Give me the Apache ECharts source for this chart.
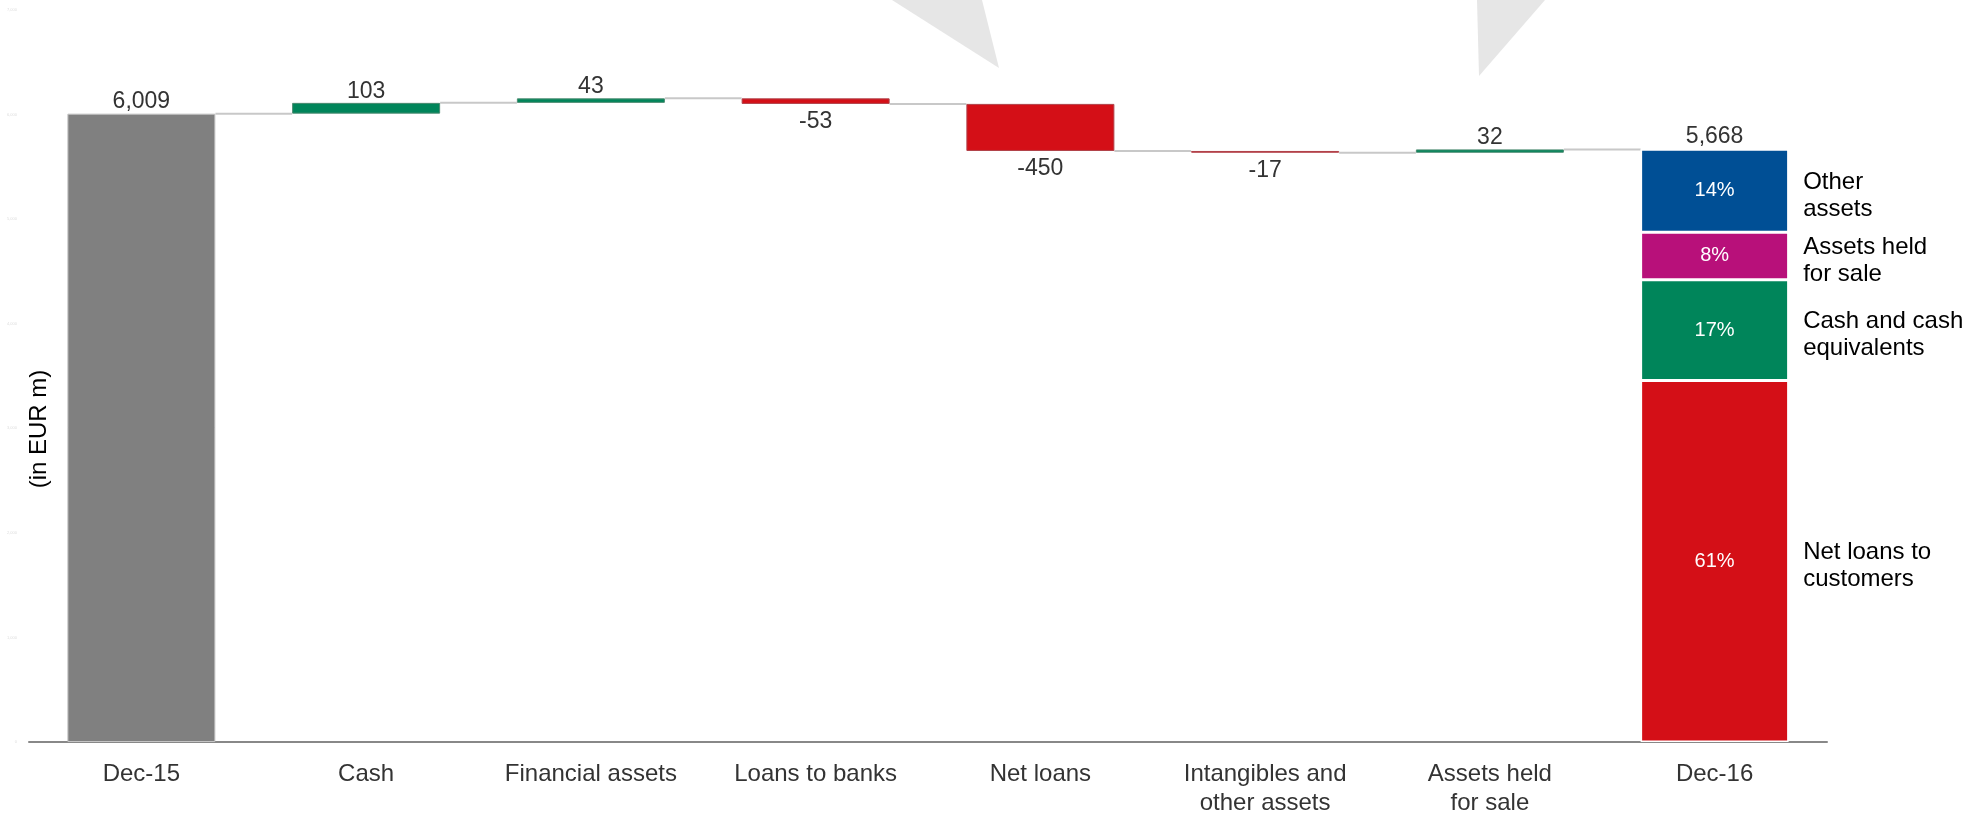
<!DOCTYPE html>
<html>
<head>
<meta charset="utf-8">
<style>
html,body{margin:0;padding:0;background:#fff;}
#chart{width:1978px;height:814px;}
</style>
<script src="https://cdn.jsdelivr.net/npm/echarts@6/dist/echarts.min.js"></script>
</head>
<body>
<div id="chart"></div>
<script>
// ---- data ----
const categories = ['Dec-15', 'Cash', 'Financial assets', 'Loans to banks', 'Net loans', 'Intangibles and\nother assets', 'Assets held\nfor sale', 'Dec-16'];
const startValue = 6009;
const changes = [103, 43, -53, -450, -17, 32];
const endValue = 5668;
const compNames = ['Net loans to\ncustomers', 'Cash and cash\nequivalents', 'Assets held\nfor sale', 'Other\nassets'];
const compPct = [61, 17, 8, 14];
const yTicks = [0, 1000, 2000, 3000, 4000, 5000, 6000, 7000];
const yAxisTitle = '(in EUR m)';

// ---- colours ----
const C_GREY = '#808080', C_GREEN = '#00855a', C_RED = '#d40f17';
const compColors = [C_RED, '#00855a', '#b8107a', '#004f95'];

const n = categories.length;
const BAR_W = 148;
const FONT = 'Liberation Sans, Arial, sans-serif';

// build waterfall helpers
const base = new Array(n).fill('-');
const pos = new Array(n).fill('-');
const neg = new Array(n).fill('-');
const total = new Array(n).fill('-');
const levels = [startValue];
total[0] = startValue;
let run = startValue;
changes.forEach((c, k) => {
  const i = k + 1;
  const next = run + c;
  base[i] = Math.min(run, next);
  if (c >= 0) pos[i] = c; else neg[i] = -c;
  run = next;
  levels.push(run);
});
const compValues = compPct.map(p => endValue * p / 100);
const fmt = v => v.toLocaleString('en-US');

const labelFont = { fontFamily: FONT, fontSize: 23, color: '#333', opacity: 1 };

const series = [
  { name: 'base', type: 'bar', stack: 'w', barWidth: BAR_W, data: base, itemStyle: { color: 'transparent' }, silent: true },
  { name: 'total', type: 'bar', stack: 'w', data: total,
    itemStyle: { color: C_GREY, borderColor: '#c4c4c4', borderWidth: 1 },
    label: { show: true, position: 'top', distance: 0, formatter: p => fmt(p.value), ...labelFont } },
  { name: 'pos', type: 'bar', stack: 'w', data: pos,
    itemStyle: { color: C_GREEN, borderColor: '#4a8a70', borderWidth: 1 },
    label: { show: true, position: 'top', distance: 0, formatter: p => String(p.value), ...labelFont } },
  { name: 'neg', type: 'bar', stack: 'w', data: neg,
    itemStyle: { color: C_RED, borderColor: '#b04048', borderWidth: 1 },
    label: { show: true, position: 'bottom', distance: 6, formatter: p => '-' + p.value, ...labelFont } }
];

compValues.forEach((v, k) => {
  const d = new Array(n).fill('-');
  d[n - 1] = v;
  series.push({
    name: compNames[k], type: 'bar', stack: 'w', data: d,
    itemStyle: { color: compColors[k], borderColor: '#fff', borderWidth: 1.5 },
    label: {
      show: true, position: 'inside', formatter: compPct[k] + '%',
      color: '#fff', fontSize: 20, fontFamily: FONT
    }
  });
});

// end total label on top of Dec-16 stack
const endLbl = new Array(n).fill('-');
endLbl[n - 1] = endValue;
series.push({
  name: 'endLabel', type: 'scatter', data: endLbl, symbolSize: 1, silent: true,
  itemStyle: { color: 'rgba(0,0,0,0)', opacity: 1 },
  label: { show: true, position: 'top', distance: 1, formatter: p => fmt(p.value), ...labelFont }
});

// composition name labels to the right of Dec-16
let cum = 0;
const compMid = compValues.map(v => { const m = cum + v / 2; cum += v; return m; });
series.push({
  name: 'compNames', type: 'scatter', symbolSize: 1, silent: true,
  itemStyle: { color: 'rgba(0,0,0,0)', opacity: 1 },
  data: compMid.map((m, k) => ({ value: [n - 1, m], name: compNames[k] })),
  label: {
    show: true, position: 'right', distance: 88, offset: [0, 5], formatter: p => p.name,
    color: '#000', opacity: 1, fontSize: 24, lineHeight: 27, align: 'left',
    fontFamily: FONT
  }
});

// connector lines between bars
series.push({
  name: 'connectors', type: 'custom', silent: true, z: 1,
  data: levels.map((v, i) => [i, v]),
  renderItem: (params, api) => {
    const p = api.coord([api.value(0), api.value(1)]);
    const bw = api.size([1, 0])[0];
    return {
      type: 'line',
      shape: { x1: p[0] + BAR_W / 2, y1: p[1], x2: p[0] + bw - BAR_W / 2, y2: p[1] },
      style: { stroke: '#c8c8c8', lineWidth: 2 }
    };
  }
});

const chart = echarts.init(document.getElementById('chart'));
chart.setOption({
  animation: false,
  backgroundColor: '#fff',
  grid: { left: 29, right: 151, top: 10, bottom: 72, containLabel: false, outerBoundsMode: 'none' },
  xAxis: {
    type: 'category', data: categories,
    axisLine: { lineStyle: { color: '#888', width: 2 } },
    axisTick: { show: false },
    axisLabel: { interval: 0, margin: 18, color: '#333', fontSize: 24, lineHeight: 29, fontFamily: FONT }
  },
  yAxis: {
    type: 'value', min: yTicks[0], max: yTicks[yTicks.length - 1], interval: yTicks[1] - yTicks[0],
    axisLine: { show: false }, axisTick: { show: false }, splitLine: { show: false },
    axisLabel: { show: true, fontSize: 4, color: '#dddddd', margin: 12 }
  },
  graphic: [
    { type: 'polygon', shape: { points: [[892, 0], [982, 0], [999, 68]] }, style: { fill: '#e6e6e6' }, z: -1 },
    { type: 'polygon', shape: { points: [[1477, 0], [1545, 0], [1479, 76]] }, style: { fill: '#e6e6e6' }, z: -1 },
    { type: 'text', x: 39, y: 429, rotation: Math.PI / 2,
      style: { text: yAxisTitle, fill: '#000', font: '24px ' + FONT, align: 'center', verticalAlign: 'middle' } }
  ],
  series: series
});
</script>
</body>
</html>
